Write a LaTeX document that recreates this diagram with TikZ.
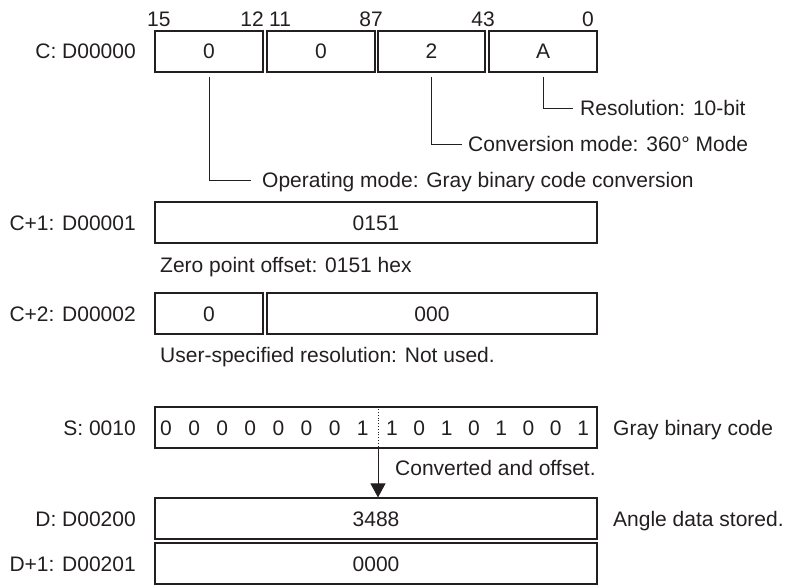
\documentclass[tikz,border=0pt]{standalone}
\usepackage{fontspec}
\setmainfont{Liberation Sans}
\usetikzlibrary{arrows.meta}
\definecolor{ink}{HTML}{231F20}
\begin{document}
\begin{tikzpicture}[x=1pt,y=-1pt,
  every node/.style={font=\fontsize{21}{25}\selectfont, text=ink},
  txt/.style={inner sep=0pt, text height=15pt, text depth=0pt},
  reg/.style={draw=ink, line width=1.15pt, minimum height=41pt, inner sep=0pt, text height=15pt, text depth=0pt},
  lead/.style={draw=ink, line width=0.9pt},
  lbl/.style={txt, anchor=east},
  note/.style={txt, anchor=west}]
\useasboundingbox (0,0) rectangle (791,585);
% bit numbers
\node[txt, anchor=west] (b15) at (147,19) {15};
\node[txt, anchor=east] (b12) at (264,19) {12};
\node[txt, anchor=west] (b11) at (269,19) {11};
\node[txt] (b87) at (371,19) {87};
\node[txt] (b43) at (483,19) {43};
\node[txt, anchor=east] (b0) at (594,19) {0};
% C
\node[lbl] (lc) at (136,51.5) {C: D00000};
\node[reg, minimum width=108pt] (c1) at (209,51.5) {0};
\node[reg, minimum width=108pt] (c2) at (321,51.5) {0};
\node[reg, minimum width=107pt] (c3) at (431.5,51.5) {2};
\node[reg, minimum width=108pt] (c4) at (543,51.5) {A};
\node[note] (res) at (580,108) {Resolution: 10-bit};
\node[note] (conv) at (468,144) {Conversion mode: 360° Mode};
\node[note] (op) at (262,180) {Operating mode: Gray binary code conversion};
\draw[lead] ([yshift=-4pt]c4.south) |- ([xshift=-7pt]res.west);
\draw[lead] ([yshift=-4pt]c3.south) |- ([xshift=-6pt]conv.west);
\draw[lead] ([yshift=-4pt]c1.south) |- ([xshift=-11pt]op.west);
% C+1
\node[lbl] (lc1) at (136,222.5) {C+1: D00001};
\node[reg, minimum width=442pt] (cc1) at (376,222.5) {0151};
\node[note] (zp) at (160,265) {Zero point offset: 0151 hex};
% C+2
\node[lbl] (lc2) at (136,313.5) {C+2: D00002};
\node[reg, minimum width=108pt] (cc2a) at (209,313.5) {0};
\node[reg, minimum width=330pt] (cc2b) at (432,313.5) {000};
\node[note] (us) at (160,355) {User-specified resolution: Not used.};
% S
\node[lbl] (ls) at (136,427.5) {S: 0010};
\node[reg, minimum width=442pt] (s) at (376,427.5) {};
\foreach \v [count=\i] in {0,0,0,0,0,0,0,1}
  \node[txt] (sa\i) at ({166+28.1*(\i-1)},427.5) {\v};
\foreach \v [count=\i] in {1,0,1,0,1,0,0,1}
  \node[txt] (sb\i) at ({392+27.3*(\i-1)},427.5) {\v};
\coordinate (dv) at (378,427.5);
\draw[ink, line width=0.8pt, dotted] (dv |- s.north) -- (dv |- s.south);
\node[note] (gray) at (613,427.5) {Gray binary code};
\node[note] (cv) at (395,468) {Converted and offset.};
% D
\node[lbl] (ld) at (136,518.5) {D: D00200};
\node[reg, minimum width=442pt] (d) at (376,518.5) {3488};
\node[note] (ang) at (613,518.5) {Angle data stored.};
\draw[lead, -{Triangle[width=15pt,length=14pt]}, fill=ink] (dv |- s.south) -- (dv |- d.north);
% D+1
\node[lbl] (ld1) at (136,563.5) {D+1: D00201};
\node[reg, minimum width=442pt] (d1) at (376,563.5) {0000};
\end{tikzpicture}
\end{document}
